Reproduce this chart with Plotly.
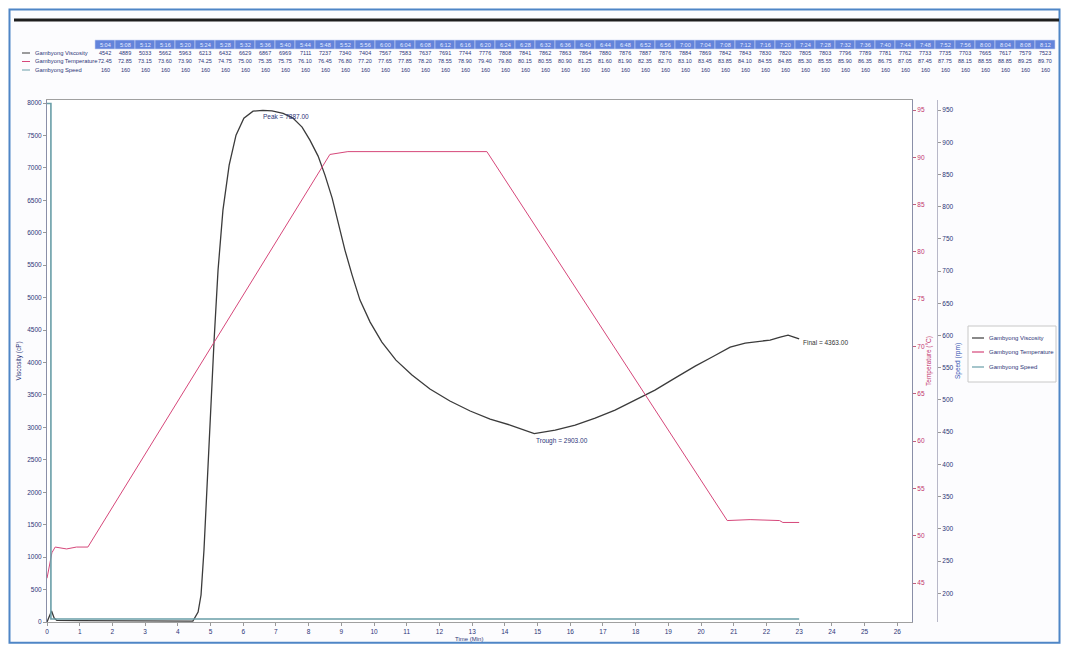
import plotly.graph_objects as go

# ---------------- data ----------------
# Viscosity curve (time in min, viscosity in cP)
visc_t = [0.0, 0.07, 0.14, 0.22, 0.3, 1.0, 2.0, 3.0, 4.0, 4.46, 4.62, 4.71, 4.80, 4.89, 4.98, 5.11, 5.23,
          5.38, 5.57, 5.78, 6.02, 6.30, 6.60, 6.88, 7.22, 7.52, 7.80, 8.04, 8.29, 8.50, 8.72, 8.90,
          9.11, 9.33, 9.57, 9.88, 10.24, 10.67, 11.16, 11.71, 12.32, 12.94, 13.55, 14.16, 14.62,
          14.90, 15.54, 16.15, 16.76, 17.37, 17.98, 18.59, 19.20, 19.82, 20.34, 20.89, 21.35,
          21.80, 22.11, 22.42, 22.66, 22.84, 23.0]
visc_v = [0, 100, 170, 60, 25, 22, 20, 20, 20, 15, 154, 416, 1110, 2034, 3113, 4346, 5424,
          6349, 7042, 7505, 7767, 7874, 7887, 7880, 7840, 7767, 7628, 7428, 7181, 6888, 6534, 6164,
          5733, 5347, 4962, 4623, 4315, 4037, 3806, 3591, 3406, 3252, 3128, 3036, 2959,
          2903, 2959, 3036, 3144, 3267, 3421, 3575, 3760, 3945, 4084, 4238, 4300,
          4330, 4346, 4392, 4423, 4392, 4363]

# Temperature curve (time in min, °C)
temp_t = [0.0, 0.15, 0.25, 0.6, 0.9, 1.25, 8.65, 9.2, 13.45, 20.8, 21.5, 22.4, 22.5, 23.0]
temp_v = [45.5, 48.2, 48.8, 48.6, 48.8, 48.8, 90.3, 90.6, 90.6, 51.6, 51.7, 51.6, 51.4, 51.4]

# Speed curve (time in min, rpm)
speed_t = [0.0, 0.12, 0.12, 23.0]
speed_v = [960, 960, 160, 160]

# Annotated points
peak_t, peak_v = 6.60, 7887.00
trough_t, trough_v = 14.90, 2903.00
final_t, final_v = 23.0, 4363.00

# Table at the top
table_times = ["5:04", "5:08", "5:12", "5:16", "5:20", "5:24", "5:28", "5:32", "5:36", "5:40",
               "5:44", "5:48", "5:52", "5:56", "6:00", "6:04", "6:08", "6:12", "6:16", "6:20",
               "6:24", "6:28", "6:32", "6:36", "6:40", "6:44", "6:48", "6:52", "6:56", "7:00",
               "7:04", "7:08", "7:12", "7:16", "7:20", "7:24", "7:28", "7:32", "7:36", "7:40",
               "7:44", "7:48", "7:52", "7:56", "8:00", "8:04", "8:08", "8:12"]
table_visc = [4542, 4889, 5033, 5662, 5963, 6213, 6432, 6629, 6867, 6969, 7111, 7237, 7340, 7404,
              7567, 7583, 7637, 7691, 7744, 7776, 7808, 7841, 7862, 7863, 7864, 7880, 7876, 7887,
              7876, 7884, 7869, 7842, 7843, 7830, 7820, 7805, 7803, 7796, 7789, 7781, 7762, 7733,
              7735, 7703, 7665, 7617, 7579, 7523]
table_temp = [72.45, 72.85, 73.15, 73.60, 73.90, 74.25, 74.75, 75.00, 75.35, 75.75, 76.10, 76.45,
              76.80, 77.20, 77.65, 77.85, 78.20, 78.55, 78.90, 79.40, 79.80, 80.15, 80.55, 80.90,
              81.25, 81.60, 81.90, 82.35, 82.70, 83.10, 83.45, 83.85, 84.10, 84.55, 84.85, 85.30,
              85.55, 85.90, 86.35, 86.75, 87.05, 87.45, 87.75, 88.15, 88.55, 88.85, 89.25, 89.70]
table_speed = [160] * 48

series_names = ["Gambyong Viscosity", "Gambyong Temperature", "Gambyong Speed"]
visc_ticks = list(range(0, 8001, 500))
temp_ticks = [45, 50, 55, 60, 65, 70, 75, 80, 85, 90, 95]
speed_ticks = list(range(200, 951, 50))
time_ticks = list(range(0, 27))

# ---------------- styling / geometry ----------------
# The page body has an 8 px margin; the figure is sized so that it fits the
# window without scrollbars, and all design coordinates below are page pixels.
OFF = 8
W, H = 1069 - 2 * OFF, 652 - 2 * OFF          # figure spans page x 8..1061, y 8..644
PAGE_L, PAGE_R, PAGE_T, PAGE_B = 47, 1058, 100, 622    # paper area in page pixels
ML, MT = PAGE_L - OFF, PAGE_T - OFF
MR = (OFF + W) - PAGE_R
MB = (OFF + H) - PAGE_B
PW, PH = PAGE_R - PAGE_L, PAGE_B - PAGE_T
FONT = "Liberation Sans, Arial, sans-serif"
NAVY = "#2c3577"
VISC_C = "#3b3b3b"
TEMP_C = "#d6477a"
SPEED_C = "#6a9ea8"
COLORS = [VISC_C, TEMP_C, SPEED_C]


def px(xp):
    return (xp - PAGE_L) / PW


def py(yp):
    return (PAGE_B - yp) / PH


fig = go.Figure()
fig.add_trace(go.Scatter(x=visc_t, y=visc_v, mode="lines", name=series_names[0],
                         line=dict(color=VISC_C, width=1.3), yaxis="y", showlegend=False))
fig.add_trace(go.Scatter(x=temp_t, y=temp_v, mode="lines", name=series_names[1],
                         line=dict(color=TEMP_C, width=1), yaxis="y2", showlegend=False))
fig.add_trace(go.Scatter(x=speed_t, y=speed_v, mode="lines", name=series_names[2],
                         line=dict(color=SPEED_C, width=1.6), yaxis="y3", showlegend=False))

# speed axis mapping: 950 at y=110 px, 160 at y=619 px
k = (619 - 110) / (950 - 160)
speed_range = [160 - (PAGE_B - 619) / k, 950 + (110 - PAGE_T) / k]
# temperature axis mapping: 95 at y=110, 45 at y=583
kt = (583 - 110) / 50
temp_range = [45 - (PAGE_B - 583) / kt, 95 + (110 - PAGE_T) / kt]

tickfont = dict(family=FONT, size=6.5, color=NAVY)

fig.update_layout(
    width=W, height=H,
    margin=dict(l=ML, r=MR, t=MT, b=MB, autoexpand=False),
    paper_bgcolor="#fcfcfe", plot_bgcolor="#ffffff",
    font=dict(family=FONT, size=7, color=NAVY),
    showlegend=False,
    xaxis=dict(domain=[0, px(912)], range=[0, 26.45], tickvals=time_ticks, automargin=False,
               ticks="outside", ticklen=3, tickcolor="#999", tickfont=tickfont,
               showgrid=False, zeroline=False, showline=True, linecolor="#a0a0a0", mirror=True),
    yaxis=dict(range=[0, 8000 * (PAGE_B - PAGE_T) / (PAGE_B - 103)], tickvals=visc_ticks, automargin=False,
               ticks="outside", ticklen=3, tickcolor="#999", tickfont=tickfont,
               showgrid=False, zeroline=False, showline=True, linecolor="#8a8fa8", mirror=True,
               title=dict(text="Viscosity (cP)", font=dict(family=FONT, size=6.5, color=NAVY), standoff=4)),
    yaxis2=dict(overlaying="y", side="right", anchor="x", range=temp_range, tickvals=temp_ticks,
                automargin=False, ticks="outside", ticklen=3, tickcolor="#c0607f",
                tickfont=dict(family=FONT, size=6.5, color="#c2336b"),
                showgrid=False, zeroline=False, showline=False,
                title=dict(text="Temperature (°C)", font=dict(family=FONT, size=6.5, color="#c2336b"),
                           standoff=2)),
    yaxis3=dict(overlaying="y", side="right", anchor="free", position=px(937), range=speed_range,
                tickvals=speed_ticks, automargin=False, ticks="outside", ticklen=3, tickcolor="#999",
                tickfont=dict(family=FONT, size=6.5, color=NAVY),
                showgrid=False, zeroline=False, showline=True, linecolor="#b8b8c8",
                title=dict(text="Speed (rpm)", font=dict(family=FONT, size=6.5, color="#2f4fb0"),
                           standoff=2)),
)

shapes = []
annotations = []

# outer blue frame and thick black rule
shapes.append(dict(type="rect", xref="paper", yref="paper", x0=px(9.5), x1=px(1059.5), y0=py(642.8),
                   y1=py(9.5), line=dict(color="#4f86c6", width=2), layer="above"))
shapes.append(dict(type="line", xref="paper", yref="paper", x0=px(14), x1=px(1059), y0=py(20), y1=py(20),
                   line=dict(color="#1e1e1e", width=3)))

# x axis title (placed as in the reference, slightly left of centre)
annotations.append(dict(xref="paper", yref="paper", x=px(469), y=py(639.3), text="Time (Min)",
                        showarrow=False, xanchor="center", yanchor="middle",
                        font=dict(family=FONT, size=6, color=NAVY)))

# table
col_x0 = 105
col_dx = 20.0
hdr_y0, hdr_y1 = 40, 49
row_y = [53, 61.5, 70]
for i, tlabel in enumerate(table_times):
    cx = col_x0 + i * col_dx
    shapes.append(dict(type="rect", xref="paper", yref="paper",
                       x0=px(cx - col_dx / 2), x1=px(cx + col_dx / 2), y0=py(hdr_y1), y1=py(hdr_y0),
                       fillcolor="#6384db", line=dict(color="#c9d4f3", width=0.6)))
    annotations.append(dict(xref="paper", yref="paper", x=px(cx), y=py((hdr_y0 + hdr_y1) / 2),
                            xanchor="center", yanchor="middle",
                            text=tlabel, showarrow=False, font=dict(family=FONT, size=5.5, color="#e8eeff")))
    for ry, val in zip(row_y, [f"{table_visc[i]}", f"{table_temp[i]:.2f}", f"{table_speed[i]}"]):
        annotations.append(dict(xref="paper", yref="paper", x=px(cx), y=py(ry), text=val, showarrow=False,
                                xanchor="center", yanchor="middle",
                                font=dict(family=FONT, size=5.5, color=NAVY)))

for ry, name, col in zip(row_y, series_names, COLORS):
    shapes.append(dict(type="line", xref="paper", yref="paper", x0=px(22), x1=px(30), y0=py(ry), y1=py(ry),
                       line=dict(color=col, width=1)))
    annotations.append(dict(xref="paper", yref="paper", x=px(33), y=py(ry), text=name, showarrow=False,
                            xanchor="left", yanchor="middle", font=dict(family=FONT, size=5.8, color=NAVY)))

# manual legend box on the right
shapes.append(dict(type="rect", xref="paper", yref="paper", x0=px(968), x1=px(1056), y0=py(382), y1=py(326),
                   line=dict(color="#c8c8c8", width=1), fillcolor="#ffffff"))
for ly, name, col in zip([338, 352, 367], series_names, COLORS):
    shapes.append(dict(type="line", xref="paper", yref="paper", x0=px(972), x1=px(984), y0=py(ly), y1=py(ly),
                       line=dict(color=col, width=1.2)))
    annotations.append(dict(xref="paper", yref="paper", x=px(987), y=py(ly), text=name, showarrow=False,
                            xanchor="left", yanchor="middle", font=dict(family=FONT, size=6, color=NAVY)))

# curve labels
annotations.append(dict(x=peak_t, y=peak_v, xref="x", yref="y", text=f"Peak = {peak_v:.2f}",
                        showarrow=False, xanchor="left", yanchor="top", xshift=-2, yshift=-1,
                        font=dict(family=FONT, size=6.5, color=NAVY)))
annotations.append(dict(x=trough_t, y=trough_v, xref="x", yref="y", text=f"Trough = {trough_v:.2f}",
                        showarrow=False, xanchor="left", yanchor="top", xshift=0, yshift=-1,
                        font=dict(family=FONT, size=6.5, color=NAVY)))
annotations.append(dict(x=final_t, y=final_v, xref="x", yref="y", text=f"Final = {final_v:.2f}",
                        showarrow=False, xanchor="left", yanchor="top", xshift=2, yshift=2,
                        font=dict(family=FONT, size=6.5, color="#333333")))

fig.update_layout(shapes=shapes, annotations=annotations)
fig.write_html("out.html")
